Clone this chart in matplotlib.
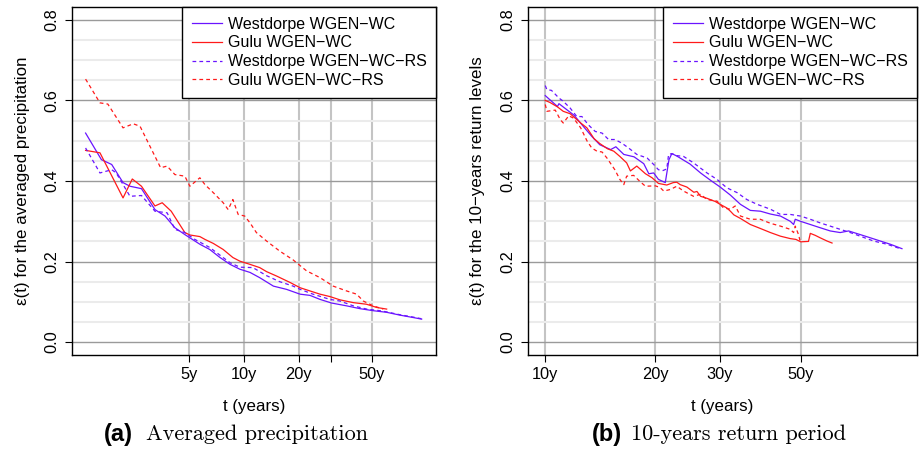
import matplotlib
matplotlib.use('Agg')
import matplotlib.pyplot as plt

plt.rcParams['font.family'] = ['Liberation Sans', 'DejaVu Sans']

WEST_COL = '#6a14ff'
GULU_COL = '#ff1a1a'

LEGEND_LABELS = ['Westdorpe WGEN\u2212WC', 'Gulu WGEN\u2212WC',
                 'Westdorpe WGEN\u2212WC\u2212RS', 'Gulu WGEN\u2212WC\u2212RS']

# ---- (a) averaged precipitation ----
a_west_wc_t = [1.36, 1.66, 1.89, 2.18, 2.38, 2.75, 3.26, 3.70, 4.19, 4.75, 5.39, 5.74,
               6.5, 7.4, 8.4, 9.5, 10.8, 12.2, 14.5, 17.1, 20.3, 23.0, 26.1, 30.2,
               36.5, 43.2, 51.0, 60.4, 71.4, 84.5, 93.9]
a_west_wc_v = [0.519, 0.453, 0.441, 0.396, 0.387, 0.381, 0.329, 0.313, 0.284, 0.267,
               0.251, 0.243, 0.230, 0.210, 0.193, 0.181, 0.173, 0.160, 0.139, 0.131,
               0.119, 0.116, 0.106, 0.097, 0.090, 0.083, 0.078, 0.074, 0.067, 0.061,
               0.057]

a_gulu_wc_t = [1.36, 1.63, 2.18, 2.45, 2.75, 3.26, 3.57, 4.0, 4.75, 5.06, 5.74, 6.12,
               6.8, 7.7, 8.7, 9.5, 10.8, 12.2, 13.3, 15.1, 17.9, 20.3, 23.0, 26.1,
               29.6, 33.5, 39.7, 46.9, 53.3, 60.4]
a_gulu_wc_v = [0.476, 0.470, 0.358, 0.405, 0.387, 0.338, 0.346, 0.325, 0.272, 0.266,
               0.262, 0.255, 0.245, 0.230, 0.210, 0.201, 0.193, 0.185, 0.175, 0.164,
               0.148, 0.135, 0.127, 0.119, 0.113, 0.105, 0.098, 0.094, 0.086, 0.082]

a_west_rs_t = [1.36, 1.63, 1.89, 2.0, 2.38, 2.75, 3.26, 3.8, 4.19, 4.75, 5.39, 6.5,
               8.4, 9.5, 11.2, 13.3, 15.7, 18.6, 20.3, 23.9, 29.6, 33.5, 39.7, 47.0,
               55.5, 60.4, 71.4, 84.5, 93.9]
a_west_rs_v = [0.482, 0.420, 0.428, 0.420, 0.362, 0.364, 0.325, 0.321, 0.280, 0.272,
               0.255, 0.235, 0.197, 0.186, 0.185, 0.165, 0.150, 0.139, 0.131, 0.119,
               0.106, 0.102, 0.090, 0.082, 0.078, 0.075, 0.068, 0.062, 0.058]

a_gulu_rs_t = [1.36, 1.63, 1.8, 2.18, 2.48, 2.7, 3.5, 3.8, 4.19, 4.75, 5.06, 5.74,
               6.12, 6.8, 7.7, 8.2, 8.7, 9.3, 10.1, 10.8, 11.7, 13.3, 15.7, 18.6,
               22.0, 26.1, 30.8, 36.5, 41.4, 45.0, 51.0, 57.9]
a_gulu_rs_v = [0.653, 0.594, 0.591, 0.532, 0.542, 0.536, 0.433, 0.437, 0.416, 0.412,
               0.387, 0.408, 0.391, 0.371, 0.346, 0.329, 0.354, 0.317, 0.313, 0.296,
               0.272, 0.251, 0.226, 0.204, 0.177, 0.160, 0.139, 0.127, 0.119, 0.102,
               0.090, 0.082]

# ---- (b) 10-years return period ----
b_west_wc_t = [10.0, 10.8, 10.9, 12.0, 12.7, 13.4, 14.1, 15.1, 15.6, 16.4, 17.5,
               18.6, 19.2, 19.8, 20.4, 21.3, 21.8, 22.2, 22.9, 24.9, 26.6, 28.3,
               30.1, 32.1, 34.2, 36.4, 38.8, 41.3, 44.0, 46.8, 47.8, 48.3, 49.9,
               53.1, 56.5, 60.2, 64.1, 67.6, 72.7, 77.5, 82.5, 87.9, 94.6]
b_west_wc_v = [0.612, 0.585, 0.592, 0.563, 0.536, 0.511, 0.490, 0.478, 0.485, 0.466,
               0.460, 0.443, 0.418, 0.420, 0.404, 0.396, 0.453, 0.468, 0.462, 0.442,
               0.420, 0.402, 0.385, 0.365, 0.342, 0.327, 0.325, 0.318, 0.313, 0.300,
               0.292, 0.305, 0.300, 0.292, 0.284, 0.276, 0.272, 0.276, 0.267, 0.259,
               0.251, 0.243, 0.232]

b_gulu_wc_t = [10.0, 10.3, 10.8, 11.2, 11.7, 12.5, 13.0, 13.6, 14.1, 14.8, 15.4,
               16.0, 16.7, 17.1, 17.8, 18.8, 19.6, 20.4, 21.5, 22.4, 22.9, 23.4,
               24.4, 25.5, 26.0, 26.6, 27.7, 29.2, 30.1, 31.4, 32.1, 32.8, 34.2,
               36.4, 38.8, 41.3, 44.0, 46.8, 48.5, 50.0, 52.5, 53.1, 54.8, 56.5,
               59.0, 60.9]
b_gulu_wc_v = [0.600, 0.595, 0.584, 0.573, 0.567, 0.544, 0.532, 0.505, 0.493, 0.480,
               0.474, 0.461, 0.445, 0.425, 0.437, 0.418, 0.408, 0.394, 0.390, 0.396,
               0.397, 0.391, 0.385, 0.372, 0.374, 0.362, 0.357, 0.349, 0.342, 0.333,
               0.325, 0.316, 0.307, 0.292, 0.282, 0.272, 0.263, 0.257, 0.255, 0.249,
               0.250, 0.270, 0.265, 0.259, 0.251, 0.246]

b_west_rs_t = [10.0, 10.1, 10.4, 10.9, 11.2, 11.7, 12.2, 12.6, 13.1, 13.7, 14.3,
               14.9, 15.5, 16.2, 16.9, 17.8, 19.0, 19.8, 20.4, 21.0, 21.5, 21.75,
               22.2, 22.9, 23.9, 25.45, 27.7, 29.5, 31.4, 33.5, 35.6, 38.0, 41.3,
               44.0, 46.8, 49.9, 53.1, 56.5, 60.2, 64.1, 68.3, 72.7, 79.1, 86.1, 93.6]
b_west_rs_v = [0.637, 0.627, 0.625, 0.606, 0.598, 0.581, 0.560, 0.560, 0.540, 0.523,
               0.519, 0.503, 0.503, 0.494, 0.482, 0.466, 0.457, 0.441, 0.428, 0.426,
               0.430, 0.466, 0.468, 0.463, 0.461, 0.445, 0.420, 0.404, 0.383, 0.371,
               0.354, 0.342, 0.330, 0.317, 0.317, 0.313, 0.305, 0.296, 0.288, 0.280,
               0.272, 0.263, 0.251, 0.243, 0.232]

b_gulu_rs_t = [10.0, 10.1, 10.65, 11.0, 11.2, 11.6, 11.95, 12.5, 13.0, 13.4, 13.85,
               14.3, 14.75, 15.5, 16.0, 16.4, 16.7, 17.45, 18.2, 18.8, 20.0, 20.6,
               21.1, 22.0, 22.9, 23.9, 25.45, 26.6, 27.7, 29.5, 30.75, 32.1, 33.1,
               34.2, 36.4, 38.75, 41.3, 44.0, 46.8, 47.8, 48.3, 49.3, 49.9]
b_gulu_rs_v = [0.590, 0.573, 0.576, 0.552, 0.544, 0.562, 0.556, 0.532, 0.500, 0.482,
               0.474, 0.472, 0.457, 0.428, 0.404, 0.391, 0.412, 0.414, 0.398, 0.387,
               0.388, 0.384, 0.375, 0.379, 0.387, 0.375, 0.362, 0.367, 0.354, 0.350,
               0.333, 0.330, 0.338, 0.313, 0.305, 0.305, 0.295, 0.288, 0.280, 0.272,
               0.288, 0.267, 0.248]

a_xticks = [5, 10, 20, 30, 50]
a_xticklabels = ['5y', '10y', '20y', '', '50y']
b_xticks = [10, 20, 30, 50]
b_xticklabels = ['10y', '20y', '30y', '50y']
yticks = [0.0, 0.2, 0.4, 0.6, 0.8]
yticks_minor = [0.05, 0.1, 0.15, 0.25, 0.3, 0.35, 0.45, 0.5, 0.55, 0.65, 0.7, 0.75]


def draw_panel(ax, series, xlim, xticks, xticklabels, ylabel, ylabel_x):
    colors = [WEST_COL, GULU_COL, WEST_COL, GULU_COL]
    for k, ((t, v), col) in enumerate(zip(series, colors)):
        if k < 2:
            ax.plot(t, v, '-', color=col, lw=0.9, label=LEGEND_LABELS[k], zorder=3)
        else:
            ax.plot(t, v, '--', color=col, lw=0.9, dashes=(3, 2.5),
                    label=LEGEND_LABELS[k], zorder=3)
    ax.set_xscale('log')
    ax.set_xlim(*xlim)
    ax.set_ylim(-0.032, 0.832)
    ax.set_xticks(xticks)
    ax.set_xticklabels(xticklabels)
    ax.xaxis.set_minor_locator(matplotlib.ticker.NullLocator())
    ax.set_yticks(yticks)
    ax.set_yticklabels(['%.1f' % y for y in yticks])
    ax.set_yticks(yticks_minor, minor=True)
    ax.tick_params(axis='y', which='minor', length=0)
    ax.tick_params(axis='both', which='major', direction='out', length=5,
                   width=0.8, labelsize=11.8, color='black', pad=4)
    ax.tick_params(axis='y', labelrotation=90)
    for lbl in ax.get_yticklabels():
        lbl.set_va('center')
    ax.grid(axis='y', which='minor', color='#ebebeb', lw=1.5, zorder=0)
    ax.grid(axis='y', which='major', color='#9a9a9a', lw=1.0, zorder=0)
    ax.grid(axis='x', which='major', color='#c4c4c4', lw=1.5, zorder=0)
    ax.set_axisbelow(True)
    for sp in ax.spines.values():
        sp.set_linewidth(1.0)
    ax.set_xlabel('t (years)', fontsize=12.2, va='center')
    ax.xaxis.set_label_coords(0.5, -0.147)
    ax.set_ylabel(ylabel, fontsize=12.2, va='center')
    ax.yaxis.set_label_coords(ylabel_x, 0.5)
    leg = ax.legend(loc='upper right', borderaxespad=0, fontsize=11.5,
                    fancybox=False, framealpha=1, edgecolor='black',
                    handlelength=1.9, handletextpad=0.35, labelspacing=0.24,
                    borderpad=0.6)
    leg.get_frame().set_linewidth(1.0)


def main():
    fig = plt.figure(figsize=(9.2, 4.5), dpi=100)
    ax_a = fig.add_axes([72 / 920, 95 / 450, 364 / 920, 348 / 450])
    ax_b = fig.add_axes([528 / 920, 95 / 450, 389 / 920, 348 / 450])

    draw_panel(ax_a,
               [(a_west_wc_t, a_west_wc_v), (a_gulu_wc_t, a_gulu_wc_v),
                (a_west_rs_t, a_west_rs_v), (a_gulu_rs_t, a_gulu_rs_v)],
               (1.146, 112.5), a_xticks, a_xticklabels,
               '\u03b5(t) for the averaged precipitation', -0.137)
    draw_panel(ax_b,
               [(b_west_wc_t, b_west_wc_v), (b_gulu_wc_t, b_gulu_wc_v),
                (b_west_rs_t, b_west_rs_v), (b_gulu_rs_t, b_gulu_rs_v)],
               (8.97, 104.0), b_xticks, b_xticklabels,
               '\u03b5(t) for the 10\u2212years return levels', -0.129)

    serif = ['cmr10', 'DejaVu Serif']
    fig.text(104 / 920, 1 - 434 / 450, '(a)', fontsize=17, fontweight='bold',
             va='center', ha='left')
    fig.text(146 / 920, 1 - 434 / 450, 'Averaged precipitation', fontsize=16,
             family=serif, va='center', ha='left')
    fig.text(592 / 920, 1 - 434 / 450, '(b)', fontsize=17, fontweight='bold',
             va='center', ha='left')
    fig.text(631 / 920, 1 - 434 / 450, '10-years return period', fontsize=16,
             family=serif, va='center', ha='left')

    fig.savefig('out.png', dpi=100)


if __name__ == '__main__':
    main()
